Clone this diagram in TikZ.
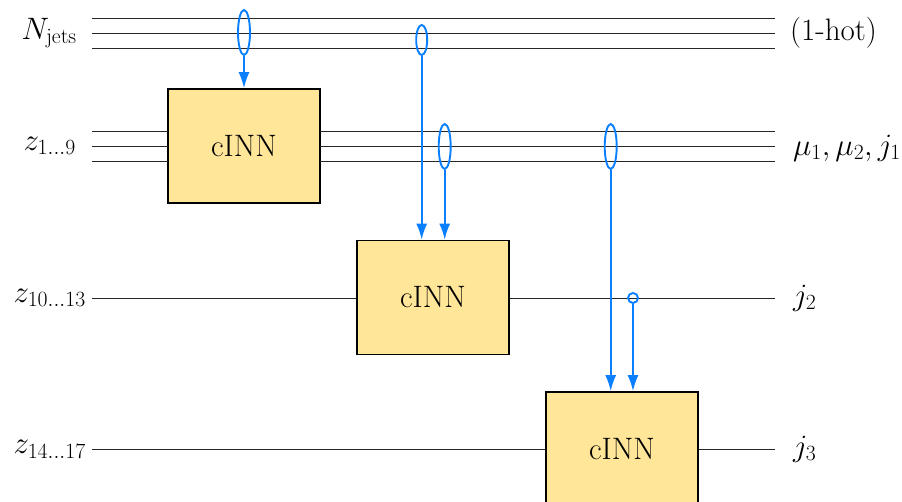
\RequirePackage{fix-cm}
\documentclass[tikz,border=0pt]{standalone}
\usetikzlibrary{arrows.meta,shapes.geometric}
\definecolor{cblue}{RGB}{10,128,255}
\definecolor{cyell}{RGB}{255,230,153}
\begin{document}
\begin{tikzpicture}[x=1pt,y=-1pt,
  wire/.style={line width=0.95pt,black!85},
  cinn/.style={draw,line width=1.6pt,fill=cyell,minimum width=152pt,minimum height=114pt,inner sep=0pt,font=\fontsize{31}{36}\selectfont},
  lbl/.style={inner sep=0pt,font=\fontsize{31}{36}\selectfont},
  sel/.style={draw=cblue,line width=1.9pt,ellipse,inner sep=0pt,minimum width=12pt,minimum height=45pt},
  dot/.style={draw=cblue,line width=1.9pt,circle,inner sep=0pt,minimum size=10pt},
  feed/.style={cblue,line width=1.9pt,-{Latex[length=16pt,width=11pt]}}]
\useasboundingbox (0,0) rectangle (902,502);
% boxes
\node[cinn] (b1) at (244,146) {cINN};
\node[cinn] (b2) at (433,297.5) {cINN};
\node[cinn] (b3) at (622,449) {cINN};
% coordinates
\foreach \y/\n in {18/a,33/b,48/c}{
  \coordinate (nl\n) at (92,\y); \coordinate (nr\n) at (775,\y);
  \draw[wire] (nl\n) -- (nr\n);}
\foreach \y/\n in {131/a,146/b,161/c}{
  \coordinate (zl\n) at (92,\y); \coordinate (zr\n) at (775,\y);
  \coordinate (bl\n) at (168,\y); \coordinate (br\n) at (320,\y);
  \draw[wire] (zl\n) -- (bl\n); \draw[wire] (br\n) -- (zr\n);}
\coordinate (yl) at (92,298); \coordinate (yr) at (775,298);
\coordinate (yb) at (b2.west |- yl); \coordinate (yc) at (b2.east |- yl);
\draw[wire] (yl) -- (yb); \draw[wire] (yc) -- (yr);
\coordinate (wl) at (92,449); \coordinate (wr) at (775,449);
\draw[wire] (wl) -- (b3.west); \draw[wire] (b3.east) -- (wr);
% labels
\node[lbl,anchor=east] (ln) at (77,33) {$N_{\mathrm{jets}}$};
\node[lbl,anchor=east] (lz1) at (76,146) {$z_{1\ldots9}$};
\node[lbl,anchor=east] (lz2) at (86,298) {$z_{10\ldots13}$};
\node[lbl,anchor=east] (lz3) at (86,449) {$z_{14\ldots17}$};
\node[lbl,anchor=west] (rn) at (790,33) {(1-hot)};
\node[lbl,anchor=west] (rz1) at (793,148) {$\mu_1,\mu_2,j_1$};
\node[lbl,anchor=west] (rz2) at (793,298) {$j_2$};
\node[lbl,anchor=west] (rz3) at (793,449) {$j_3$};
% selectors
\node[sel] (e1) at (244,32.5) {};
\node[sel,minimum width=11pt,minimum height=30pt] (e2) at (421.7,40) {};
\node[sel] (e3) at (444.7,146.5) {};
\node[sel] (e4) at (610.7,146.5) {};
\node[dot] (d1) at (633,298) {};
% feeds
\draw[feed] (e1.south) -- (e1.south |- b1.north);
\draw[feed] (e2.south) -- (e2.south |- b2.north);
\draw[feed] (e3.south) -- (e3.south |- b2.north);
\draw[feed] (e4.south) -- (e4.south |- b3.north);
\draw[feed] (d1.south) -- (d1.south |- b3.north);
\end{tikzpicture}
\end{document}
